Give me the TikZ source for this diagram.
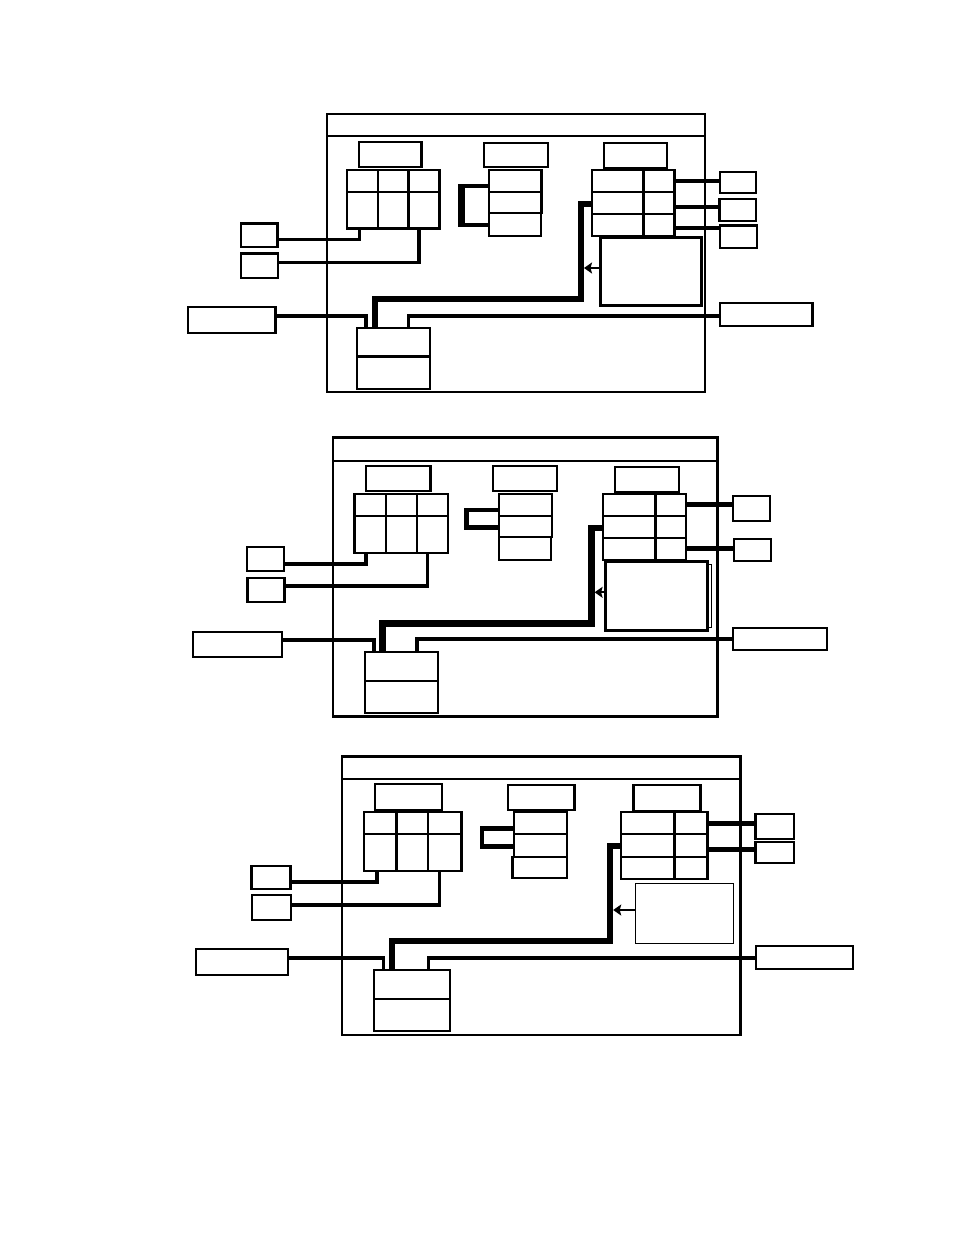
\documentclass[tikz,border=0pt]{standalone}
\usetikzlibrary{arrows.meta}
\newcommand\bx[6][]{\node[box,#1,minimum width={(#5)*1pt-(#3)*1pt},minimum height={(#6)*1pt-(#4)*1pt}] (#2) at ({((#3)+(#5))/2},{((#4)+(#6))/2}) {};}
\begin{document}
\begin{tikzpicture}[x=1pt,y=-1pt,
  box/.style={draw,line width=2.2pt,inner sep=0pt,outer sep=0pt},
  frame/.style={line width=2.6pt},
  thickbox/.style={line width=3pt},
  thinbox/.style={line width=1.2pt},
  divider/.style={line width=2.2pt},
  conn/.style={line width=3.8pt},
  rconn/.style={line width=4.8pt},
  bus/.style={line width=6.4pt},
  brk/.style={line width=4.6pt},
  brkv/.style={line width=6.5pt},
  arr/.style={line width=1.8pt,-{Stealth[length=8pt,width=11pt,inset=1.5pt]}}]
\fill[white] (0,0) rectangle (954,1235);
\useasboundingbox (0,0) rectangle (954,1235);

% ================= Panel 1 =================
\bx[frame]{aout}{327}{114}{705}{392}
\draw[divider] (aout.west |- 0,136) -- (aout.east |- 0,136);
\bx{al1}{358.7}{141.6}{421.5}{167.3}
\bx{al2}{483.6}{142.6}{548}{167.3}
\bx{al3}{604}{143}{666.7}{167.6}
\bx{agL}{347.3}{170}{439.5}{228.5}
\draw[divider] (377.9,170) -- (377.9,228.5) (408.5,170) -- (408.5,228.5) (347.3,191.6) -- (439.5,191.6);
\bx{astk}{489.3}{170}{541.5}{213.2}
\draw[divider] (489.3,191.6) -- (541.5,191.6);
\bx{astk3}{489.3}{213.2}{541.3}{236}
\bx{agR}{592}{170}{674.5}{236}
\draw[divider] (643.5,170) -- (643.5,236) (592,191.6) -- (674.5,191.6) (592,213.9) -- (674.5,213.9);
\bx{ars1}{720}{172}{756}{193}
\bx{ars2}{719.4}{199}{756}{221}
\bx{ars3}{720}{225.5}{757}{248}
\bx[thickbox]{abig}{600}{237}{701.4}{305.5}
\bx{als1}{241}{223.5}{277.5}{246.9}
\bx{als2}{241}{253.5}{278}{278}
\bx{alw}{188}{307}{275.5}{333}
\bx{abot}{356.7}{327.8}{429.7}{388.7}
\draw[divider] (356.7,356.4) -- (429.7,356.4);
\bx{arw}{720}{303}{812.4}{326}
\draw[rconn] (agR.east |- 0,181) -- (ars1.west |- 0,181);
\draw[rconn] (agR.east |- 0,207) -- (ars2.west |- 0,207);
\draw[rconn] (agR.east |- 0,228) -- (ars3.west |- 0,228);
\draw[brk] (astk.west |- 0,185.9) -- (460.7,185.9) -- (460.7,224.9) -- (astk3.west |- 0,224.9);
\draw[brkv] (461.5,184) -- (461.5,226.8);
\draw[conn] (als1.east |- 0,239.5) -| (agL.south -| 359.5,0);
\draw[conn] (als2.east |- 0,262.5) -| (agL.south -| 418.7,0);
\draw[conn] (alw.east |- 0,315.8) -| (abot.north -| 365.6,0);
\draw[conn] (arw.west |- 0,315.8) -| (abot.north -| 408.5,0);
\draw[bus] (abot.north -| 375,0) |- (581,298.8) |- (agR.west |- 0,204);
\coordinate (aat) at (584,268);
\draw[arr] (abig.west |- aat) -- (aat);

% ================= Panel 2 =================
\bx[frame]{bout}{333}{437.3}{717.5}{716.7}
\draw[divider] (bout.west |- 0,460.7) -- (bout.east |- 0,460.7);
\bx{bl1}{366.3}{465.7}{430.4}{491.3}
\bx{bl2}{493.2}{466.3}{557.3}{491.3}
\bx{bl3}{614.6}{466.7}{678.6}{492}
\bx{bgL}{354.5}{493.7}{448}{552.7}
\draw[divider] (386,493.7) -- (386,552.7) (417.3,493.7) -- (417.3,552.7) (354.5,516) -- (448,516);
\bx{bstk}{498.6}{493.7}{551.8}{537.3}
\draw[divider] (498.6,516) -- (551.8,516);
\bx{bstk3}{498.6}{537.3}{551}{560}
\bx{bgR}{602.8}{493.7}{686.2}{559.7}
\draw[divider] (655.5,493.7) -- (655.5,559.7) (602.8,516) -- (686.2,516) (602.8,538.3) -- (686.2,538.3);
\bx{brs1}{732.6}{496.3}{770}{521.3}
\bx{brs2}{734.3}{539.3}{771}{561.3}
\draw[line width=1pt] (706,564) -- (711,564) -- (711,627) -- (706,627);
\bx[thickbox]{bbig}{605.7}{561.3}{707.3}{630}
\bx{bls1}{246.6}{546.7}{283.7}{571.3}
\bx{bls2}{247.4}{577.7}{284.5}{602.3}
\bx{blw}{192.6}{631.7}{281.6}{657.3}
\bx{bbot}{364.6}{651.7}{438}{713}
\draw[divider] (364.6,680.7) -- (438,680.7);
\bx{brw}{733}{627.7}{827}{650.3}
\draw[rconn] (bgR.east |- 0,504.3) -- (brs1.west |- 0,504.3);
\draw[rconn] (bgR.east |- 0,548.7) -- (brs2.west |- 0,548.7);
\draw[brk] (bstk.west |- 0,510) -- (466.6,510) -- (466.6,527.7) -- (bstk.west |- 0,527.7);
\draw[conn] (bls1.east |- 0,564) -| (bgL.south -| 365.9,0);
\draw[conn] (bls2.east |- 0,586.3) -| (bgL.south -| 427.4,0);
\draw[conn] (blw.east |- 0,639.7) -| (bbot.north -| 373.9,0);
\draw[conn] (brw.west |- 0,639.3) -| (bbot.north -| 416.9,0);
\draw[bus] (bbot.north -| 382.3,0) |- (591.4,623.3) |- (bgR.west |- 0,527.7);
\coordinate (bat) at (594.6,592.3);
\draw[arr] (bbig.west |- bat) -- (bat);

% ================= Panel 3 =================
\bx[frame]{cout}{342}{756.7}{740.3}{1035}
\draw[divider] (cout.west |- 0,779) -- (cout.east |- 0,779);
\bx{cl1}{375.3}{784.3}{442}{810.3}
\bx{cl2}{507.8}{785}{574.5}{810.3}
\bx{cl3}{633.4}{785.3}{700.5}{811}
\bx{cgL}{363.6}{812}{461.5}{871}
\draw[divider] (396.5,812) -- (396.5,871) (428,812) -- (428,871) (363.6,834) -- (461.5,834);
\bx{cstk}{513.8}{812}{567}{856.7}
\draw[divider] (513.8,834.3) -- (567,834.3);
\bx{cstk3}{512.5}{856.7}{566.7}{878}
\bx{cgR}{621.2}{812}{707.4}{878.7}
\draw[divider] (674.5,812) -- (674.5,878.7) (621.2,834.3) -- (707.4,834.3) (621.2,856.7) -- (707.4,856.7);
\bx{crs1}{755.5}{814.3}{794}{839.3}
\bx{crs2}{755.5}{841.7}{794}{863.3}
\bx[thinbox]{cbig}{635.5}{883.3}{733.4}{943.3}
\bx{cls1}{251.4}{865.7}{290.4}{889.3}
\bx{cls2}{252.3}{895.3}{291.3}{920.3}
\bx{clw}{195.6}{949.3}{288.3}{975.3}
\bx{cbot}{374}{970}{450.2}{1031}
\draw[divider] (374,999) -- (450.2,999);
\bx{crw}{756.3}{945.7}{853.3}{969.3}
\draw[rconn] (cgR.east |- 0,823.3) -- (crs1.west |- 0,823.3);
\draw[rconn] (cgR.east |- 0,849.3) -- (crs2.west |- 0,849.3);
\draw[brk] (cstk.west |- 0,828.7) -- (481.8,828.7) -- (481.8,846.7) -- (cstk.west |- 0,846.7);
\draw[conn] (cls1.east |- 0,882.3) -| (cgL.south -| 377,0);
\draw[conn] (cls2.east |- 0,905.3) -| (cgL.south -| 439.4,0);
\draw[conn] (clw.east |- 0,958) -| (cbot.north -| 383.5,0);
\draw[conn] (crw.west |- 0,957.7) -| (cbot.north -| 428.5,0);
\draw[bus] (cbot.north -| 392.2,0) |- (610,940.7) |- (cgR.west |- 0,846);
\coordinate (cat) at (613.2,910);
\draw[arr] (cbig.west |- cat) -- (cat);
\end{tikzpicture}
\end{document}
